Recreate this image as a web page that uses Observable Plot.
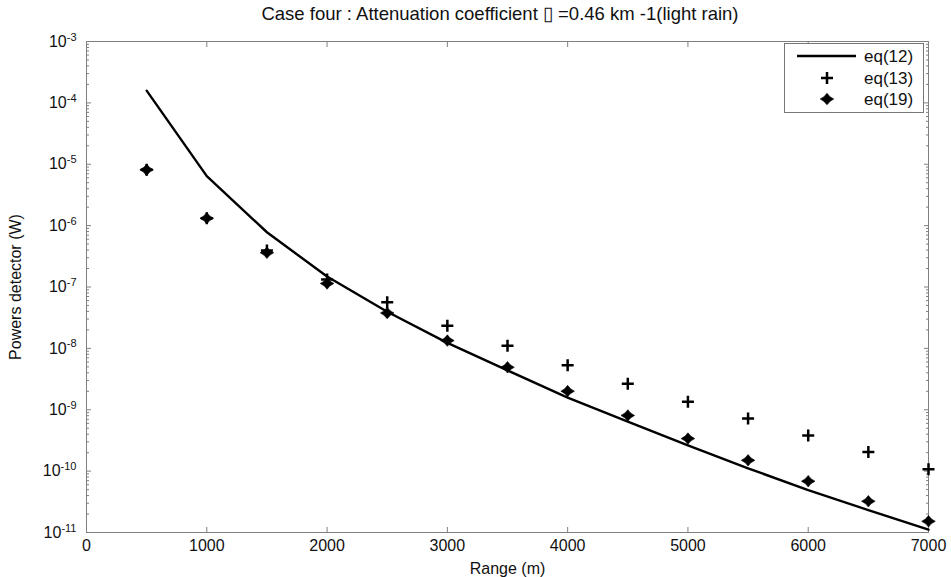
<!DOCTYPE html>
<html><head><meta charset="utf-8">
<script src="https://cdn.jsdelivr.net/npm/d3@7"></script>
<script src="https://cdn.jsdelivr.net/npm/@observablehq/plot@0.6"></script>
<style>
body{margin:0;background:#fff;font-family:"Liberation Sans",Arial,sans-serif;color:#111;}
#wrap{position:relative;width:951px;height:577px;overflow:hidden;}
#title{position:absolute;left:0;top:0;width:1000px;height:28px;line-height:28px;text-align:center;font-size:18.5px;}
#chart{position:absolute;left:0;top:30px;}
#legend{position:absolute;left:784px;top:43px;width:138px;height:68px;border:1px solid #777;background:#fff;}
#legend svg{position:absolute;left:0;top:0;}
</style>
</head><body>
<div id="wrap">
<div id="title">Case four : Attenuation coefficient &#x25AF; =0.46 km -1(light rain)</div>
<div id="chart"></div>
<div id="legend"></div>
</div>
<script>
// ---- data ----
const range = [500, 1000, 1500, 2000, 2500, 3000, 3500, 4000, 4500, 5000, 5500, 6000, 6500, 7000];
const eq12 = [1.58e-4, 6.4e-6, 7.8e-7, 1.48e-7, 3.96e-8, 1.23e-8, 4.37e-9, 1.58e-9, 6.4e-10, 2.63e-10, 1.11e-10, 4.92e-11, 2.32e-11, 1.11e-11];
const eq13 = [8.1e-6, 1.32e-6, 3.94e-7, 1.32e-7, 5.62e-8, 2.34e-8, 1.10e-8, 5.31e-9, 2.65e-9, 1.35e-9, 7.2e-10, 3.8e-10, 2.05e-10, 1.07e-10];
const eq19 = [8.1e-6, 1.32e-6, 3.61e-7, 1.14e-7, 3.77e-8, 1.34e-8, 4.92e-9, 2.01e-9, 8.07e-10, 3.39e-10, 1.50e-10, 6.86e-11, 3.23e-11, 1.52e-11];
const seriesNames = ["eq(12)", "eq(13)", "eq(19)"];
const xTicks = [0, 1000, 2000, 3000, 4000, 5000, 6000, 7000];
const yExponents = [-3, -4, -5, -6, -7, -8, -9, -10, -11];
const xLabel = "Range (m)";
const yLabel = "Powers detector (W)";

const yTicks = yExponents.map(e => Math.pow(10, e));
const yMinor = [];
for (const e of yExponents.slice(1)) for (let m = 2; m <= 9; m++) yMinor.push(m * Math.pow(10, e));

const rows = (vals) => range.map((r, i) => ({range: r, p: vals[i]}));
const d12 = rows(eq12), d13 = rows(eq13), d19 = rows(eq19);

const plusSym = {draw(ctx, size) { const r = Math.sqrt(size / Math.PI);
  ctx.moveTo(-r, 0); ctx.lineTo(r, 0); ctx.moveTo(0, -r); ctx.lineTo(0, r); }};
const diamondSym = {draw(ctx, size) { const r = Math.sqrt(size / Math.PI); const h = r * 0.85, k = 0.34;
  ctx.moveTo(0, -h); ctx.quadraticCurveTo(r * k, -h * k, r, 0);
  ctx.quadraticCurveTo(r * k, h * k, 0, h); ctx.quadraticCurveTo(-r * k, h * k, -r, 0);
  ctx.quadraticCurveTo(-r * k, -h * k, 0, -h); ctx.closePath(); }};

const axisGrey = "#808080";
const plot = Plot.plot({
  width: 951, height: 547,
  marginLeft: 86, marginRight: 23, marginTop: 11, marginBottom: 45,
  style: {fontFamily: "'Liberation Sans', Arial, sans-serif", fontSize: "16px", color: "#111", background: "#fff", overflow: "visible"},
  x: {type: "linear", domain: [0, 7000]},
  y: {type: "log", domain: [1e-11, 1e-3]},
  marks: [
    Plot.frame({stroke: axisGrey}),
    Plot.axisX({anchor: "bottom", ticks: xTicks, tickSize: 0, tickPadding: 7, tickFormat: d => String(d), label: xLabel, labelAnchor: "center", labelArrow: "none", labelOffset: 41, fill: "#111"}),
    Plot.axisX({anchor: "bottom", ticks: xTicks, tickSize: -5, tickFormat: () => "", label: null, stroke: axisGrey}),
    Plot.axisX({anchor: "top", ticks: xTicks, tickSize: -5, tickFormat: () => "", label: null, stroke: axisGrey}),
    Plot.axisY({anchor: "left", ticks: yTicks, tickSize: 0, tickPadding: 10, tickFormat: d => "10^" + Math.round(Math.log10(d)), label: yLabel, labelAnchor: "center", labelArrow: "none", labelOffset: 77, fill: "#111"}),
    Plot.axisY({anchor: "left", ticks: yTicks, tickSize: -5, tickFormat: () => "", label: null, stroke: axisGrey}),
    Plot.axisY({anchor: "left", ticks: yMinor, tickSize: -3, tickFormat: () => "", label: null, stroke: axisGrey}),
    Plot.axisY({anchor: "right", ticks: yTicks, tickSize: -5, tickFormat: () => "", label: null, stroke: axisGrey}),
    Plot.axisY({anchor: "right", ticks: yMinor, tickSize: -3, tickFormat: () => "", label: null, stroke: axisGrey}),
    Plot.line(d12, {x: "range", y: "p", stroke: "#000", strokeWidth: 2.4}),
    Plot.dot(d19, {x: "range", y: "p", symbol: diamondSym, r: 6.8, fill: "#000", stroke: "#000", strokeWidth: 0.6}),
    Plot.dot(d13, {x: "range", y: "p", symbol: plusSym, r: 6, stroke: "#000", strokeWidth: 2.5, fill: "none"})
  ]
});
document.getElementById("chart").appendChild(plot);

// superscript exponents on y tick labels
d3.select(plot).selectAll('g[aria-label="y-axis tick label"] text').each(function() {
  const t = d3.select(this); const s = t.text();
  if (!s.startsWith("10^")) return;
  t.text("");
  t.append("tspan").text("10");
  t.append("tspan").attr("dy", "-0.55em").attr("font-size", "11px").text(s.slice(3));
});

// legend
const L = d3.select("#legend").append("svg").attr("width", 138).attr("height", 68)
  .style("font-family", "'Liberation Sans', Arial, sans-serif").style("font-size", "17px");
const ly = [12, 34, 55];
L.append("line").attr("x1", 12).attr("x2", 71).attr("y1", ly[0]).attr("y2", ly[0]).attr("stroke", "#000").attr("stroke-width", 2.4);
L.append("path").attr("transform", `translate(42,${ly[1]})`).attr("d", d3.symbol(plusSym, Math.PI * 36)()).attr("stroke", "#000").attr("stroke-width", 2.5).attr("fill", "none");
L.append("path").attr("transform", `translate(42,${ly[2]})`).attr("d", d3.symbol(diamondSym, Math.PI * 6.8 * 6.8)()).attr("fill", "#000").attr("stroke", "#000").attr("stroke-width", 0.6);
seriesNames.forEach((n, i) => L.append("text").attr("x", 79).attr("y", ly[i]).attr("dy", "0.35em").attr("fill", "#111").text(n));
</script>
</body></html>
